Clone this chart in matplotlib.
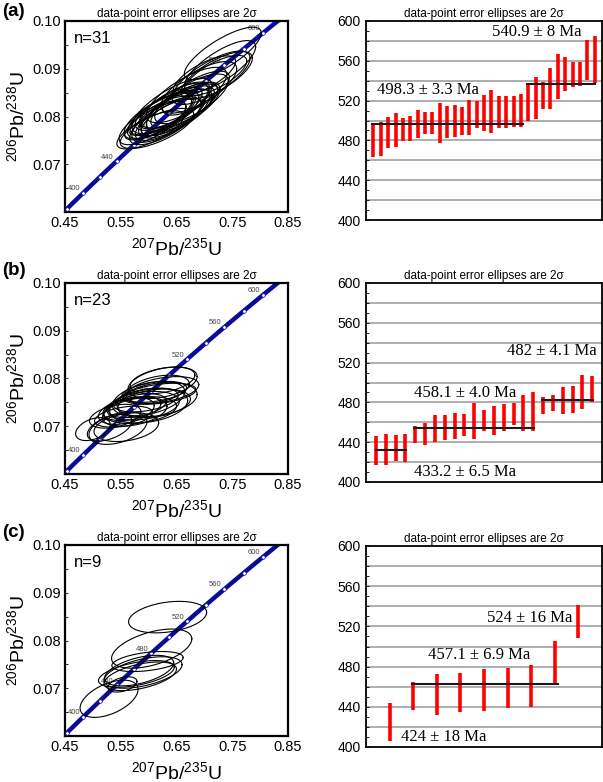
import numpy as np
import matplotlib
matplotlib.use("Agg")
import matplotlib.pyplot as plt
from matplotlib.ticker import MultipleLocator

plt.rcParams['font.family'] = ['Liberation Sans', 'DejaVu Sans']
plt.rcParams['mathtext.fontset'] = 'custom'
plt.rcParams['mathtext.rm'] = 'Liberation Sans'
plt.rcParams['mathtext.it'] = 'Liberation Sans:italic'
plt.rcParams['mathtext.bf'] = 'Liberation Sans:bold'

# decay constants (per Ma)
L238 = 1.55125e-4
L235 = 9.8485e-4

conc_tick_ages = [380, 400, 420, 440, 460, 480, 500, 520, 540, 560, 580, 600, 620]
conc_label_ages = [400, 440, 480, 520, 560, 600]

# ---- panel (a) ----
a_n = "n=31"
a_cx = [0.603, 0.615, 0.607, 0.630, 0.612, 0.636, 0.618, 0.644, 0.622, 0.640, 0.626,
        0.648, 0.624, 0.652, 0.636, 0.662, 0.642, 0.660, 0.645, 0.664, 0.648, 0.677,
        0.668, 0.685, 0.690, 0.712, 0.722, 0.700, 0.720, 0.728, 0.733]
a_cy = [0.0772, 0.0775, 0.0787, 0.0791, 0.0791, 0.0794, 0.0801, 0.0802, 0.0802, 0.0802,
        0.0804, 0.0806, 0.0805, 0.0812, 0.0816, 0.0820, 0.0822, 0.0821, 0.0822, 0.0822,
        0.0824, 0.0837, 0.0845, 0.0849, 0.0861, 0.0881, 0.0886, 0.0885, 0.0886, 0.0905, 0.0932]
a_sx = [0.060, 0.066, 0.060, 0.064, 0.055, 0.060, 0.062, 0.057, 0.055, 0.070, 0.064,
        0.066, 0.060, 0.066, 0.060, 0.066, 0.072, 0.064, 0.062, 0.060, 0.062, 0.066,
        0.072, 0.060, 0.068, 0.070, 0.064, 0.056, 0.056, 0.064, 0.069]
a_sy = [0.0040, 0.0042, 0.0046, 0.0050, 0.0040, 0.0044, 0.0048, 0.0042, 0.0040, 0.0056,
        0.0050, 0.0051, 0.0045, 0.0052, 0.0045, 0.0052, 0.0058, 0.0050, 0.0048, 0.0046,
        0.0048, 0.0052, 0.0058, 0.0046, 0.0054, 0.0056, 0.0050, 0.0042, 0.0042, 0.0054, 0.0055]
a_rho = [0.72, 0.70, 0.72, 0.72, 0.74, 0.72, 0.72, 0.74, 0.74, 0.74, 0.72, 0.72, 0.72,
         0.72, 0.72, 0.72, 0.74, 0.72, 0.72, 0.72, 0.72, 0.72, 0.74, 0.72, 0.72, 0.74,
         0.72, 0.72, 0.72, 0.76, 0.78]
a_low = [463.7, 464.3, 472.7, 473.7, 479.7, 479.7, 482.7, 486.4, 486.4, 477.1, 482.7,
         483.8, 485.4, 485.4, 492.1, 489.8, 487.1, 492.1, 492.8, 493.8, 493.8, 499.8,
         501.2, 511.6, 511.6, 521.3, 530.0, 534.0, 534.7, 540.7, 537.4]
a_high = [495.5, 498.2, 503.9, 507.2, 502.2, 504.9, 510.6, 508.2, 508.2, 517.9, 514.6,
          515.2, 513.2, 520.6, 519.6, 525.6, 530.7, 525.0, 525.0, 525.0, 526.3, 536.4,
          544.1, 539.0, 553.1, 566.5, 563.5, 558.5, 559.1, 580.9, 585.0]
a_mean_y = [496.0, 536.5]
a_mean_x = [(-0.2, 20.3), (20.8, 30.1)]
a_labels = ["498.3 ± 3.3 Ma", "540.9 ± 8 Ma"]
a_label_xy = [(0.45, 531), (16.1, 589)]

# ---- panel (b) ----
b_n = "n=23"
b_cx = [0.500, 0.545, 0.530, 0.560, 0.555, 0.540, 0.575, 0.560, 0.585, 0.570, 0.600,
        0.580, 0.590, 0.610, 0.595, 0.615, 0.600, 0.620, 0.610, 0.625, 0.615, 0.625, 0.625]
b_cy = [0.0694, 0.0696, 0.0697, 0.0698, 0.0720, 0.0721, 0.0730, 0.0732, 0.0734, 0.0737,
        0.0743, 0.0743, 0.0743, 0.0748, 0.0755, 0.0756, 0.0758, 0.0768, 0.0772, 0.0776,
        0.0777, 0.0791, 0.0796]
b_sx = [0.031, 0.052, 0.040, 0.058, 0.052, 0.046, 0.058, 0.050, 0.065, 0.052, 0.070,
        0.052, 0.065, 0.065, 0.058, 0.072, 0.065, 0.065, 0.058, 0.065, 0.058, 0.062, 0.058]
b_sy = [0.0024, 0.0034, 0.0028, 0.0030, 0.0022, 0.0025, 0.0030, 0.0028, 0.0028, 0.0025,
        0.0036, 0.0025, 0.0030, 0.0030, 0.0025, 0.0036, 0.0036, 0.0022, 0.0022, 0.0028,
        0.0030, 0.0033, 0.0028]
b_rho = [0.4, 0.4, 0.5, 0.3, 0.4, 0.4, 0.4, 0.4, 0.3, 0.4, 0.3, 0.4, 0.3, 0.3, 0.4, 0.3,
         0.4, 0.4, 0.4, 0.4, 0.4, 0.4, 0.4]
b_low = [417.4, 416.7, 420.8, 420.1, 439.2, 437.5, 439.8, 441.9, 443.5, 446.6, 443.5,
         450.9, 447.5, 450.9, 457.6, 451.6, 451.6, 468.4, 471.1, 468.7, 469.4, 473.7, 480.5]
b_high = [445.9, 448.6, 446.9, 447.9, 456.0, 459.3, 467.7, 467.7, 469.4, 468.7, 479.4,
          472.7, 476.0, 478.0, 479.4, 487.8, 490.1, 485.4, 487.8, 495.1, 496.2, 507.9, 506.8]
b_mean_y = [432.5, 454.3, 482.8]
b_mean_x = [(0.0, 3.05), (3.9, 16.1), (16.9, 22.1)]
b_labels = ["433.2 ± 6.5 Ma", "458.1 ± 4.0 Ma", "482 ± 4.1 Ma"]
b_label_xy = [(3.9, 410.5), (3.9, 489.5), (13.3, 532)]

# ---- panel (c) ----
c_n = "n=9"
c_cx = [0.529, 0.553, 0.585, 0.578, 0.590, 0.598, 0.583, 0.6055, 0.634]
c_cy = [0.0678, 0.0708, 0.0725, 0.0730, 0.0733, 0.0756, 0.0737, 0.0783, 0.0849]
c_sx = [0.052, 0.026, 0.065, 0.068, 0.070, 0.064, 0.062, 0.072, 0.070]
c_sy = [0.0039, 0.0016, 0.0030, 0.0028, 0.0033, 0.0021, 0.0032, 0.0041, 0.0033]
c_rho = [0.5, 0.4, 0.5, 0.5, 0.5, 0.4, 0.5, 0.5, 0.3]
c_low = [406.1, 437.2, 432.3, 434.9, 435.9, 438.9, 439.9, 463.1, 508.0]
c_high = [443.9, 464.8, 473.1, 474.1, 477.5, 478.8, 481.4, 505.6, 541.2]
c_mean_y = [462.2]
c_mean_x = [(0.97, 7.15)]
c_labels = ["424 ± 18 Ma", "457.1 ± 6.9 Ma", "524 ± 16 Ma"]
c_label_xy = [(0.49, 410), (1.62, 491.5), (4.12, 528)]

TITLE = "data-point error ellipses are 2σ"
W, H = 603, 782


def concordia_panel(ax, cx, cy, sx, sy, rho, ntext):
    t = np.linspace(300, 700, 400)
    ax.plot(np.exp(L235 * t) - 1, np.exp(L238 * t) - 1, color='#0a0a9a', lw=3.2,
            solid_capstyle='butt', zorder=2)
    ta = np.array(conc_tick_ages, dtype=float)
    ax.plot(np.exp(L235 * ta) - 1, np.exp(L238 * ta) - 1, 'o', ms=2.6, mfc='white',
            mec='#0a0a9a', mew=0.5, zorder=3)
    for age in conc_label_ages:
        ax.annotate(str(age), (np.exp(L235 * age) - 1, np.exp(L238 * age) - 1),
                    xytext=(-2, 0.5), textcoords='offset points', ha='right', va='bottom',
                    fontsize=5.5, color='#444444', zorder=3)
    th = np.linspace(0, 2 * np.pi, 140)
    for x0, y0, ex, ey, r in zip(cx, cy, sx, sy, rho):
        xs = x0 + ex * np.cos(th)
        ys = y0 + ey * (r * np.cos(th) + np.sqrt(1 - r * r) * np.sin(th))
        ax.plot(xs, ys, color='black', lw=0.8, zorder=4)
    ax.set_xlim(0.45, 0.85)
    ax.set_ylim(0.06, 0.10)
    ax.set_xticks([0.45, 0.55, 0.65, 0.75, 0.85])
    ax.set_xticklabels(['0.45', '0.55', '0.65', '0.75', '0.85'])
    ax.set_yticks([0.07, 0.08, 0.09, 0.10])
    ax.set_yticklabels(['0.07', '0.08', '0.09', '0.10'])
    ax.yaxis.set_minor_locator(MultipleLocator(0.005))
    ax.tick_params(which='both', direction='in', length=2, width=0.6, labelsize=10.5, pad=3)
    ax.tick_params(axis='x', which='both', length=0)
    for s in ax.spines.values():
        s.set_linewidth(1.6)
    ax.set_xlabel(r'$^{207}$Pb/$^{235}$U', fontsize=14, labelpad=5)
    ax.set_ylabel(r'$^{206}$Pb/$^{238}$U', fontsize=14, labelpad=3)
    ax.text(0.04, 0.91, ntext, transform=ax.transAxes, fontsize=12, va='center')
    ax.set_title(TITLE, fontsize=8.5, pad=3)


def age_panel(ax, low, high, mean_y, mean_x, labels, label_xy):
    n = len(low)
    idx = np.arange(n)
    for g in range(420, 600, 20):
        ax.axhline(g, color='#a0a0a0', lw=1.2, zorder=1)
    ax.vlines(idx, low, high, color='#ff0000', lw=2.6, zorder=2)
    for yv, (x0, x1) in zip(mean_y, mean_x):
        ax.plot([x0, x1], [yv, yv], color='#1a1a1a', lw=1.5, zorder=3)
    for txt, (tx, ty) in zip(labels, label_xy):
        ax.text(tx, ty, txt, fontsize=12, family=['Liberation Serif', 'DejaVu Serif'],
                ha='left', va='center', zorder=4)
    ax.set_xlim(-1, n)
    ax.set_ylim(400, 600)
    ax.set_xticks([])
    ax.set_yticks(range(400, 601, 40))
    ax.yaxis.set_minor_locator(MultipleLocator(10))
    ax.tick_params(axis='y', which='both', direction='in', length=2, width=0.6,
                   labelsize=10, pad=4)
    for s in ax.spines.values():
        s.set_linewidth(1.3)
    ax.set_title(TITLE, fontsize=8.5, pad=3)


fig = plt.figure(figsize=(W / 100, H / 100), dpi=100)

# left (concordia) axes: x 65-288 px, right (age) axes: x 366-602 px
rows = [
    ((21, 212), (21, 220), "(a)", 3,
     (a_cx, a_cy, a_sx, a_sy, a_rho, a_n), (a_low, a_high, a_mean_y, a_mean_x, a_labels, a_label_xy)),
    ((283, 474), (283, 482), "(b)", 262,
     (b_cx, b_cy, b_sx, b_sy, b_rho, b_n), (b_low, b_high, b_mean_y, b_mean_x, b_labels, b_label_xy)),
    ((545, 736), (546, 747), "(c)", 524,
     (c_cx, c_cy, c_sx, c_sy, c_rho, c_n), (c_low, c_high, c_mean_y, c_mean_x, c_labels, c_label_xy)),
]

for (lt, lb), (rt, rb), letter, ly, conc, ages in rows:
    axl = fig.add_axes([65 / W, 1 - lb / H, 223 / W, (lb - lt) / H])
    concordia_panel(axl, *conc)
    axr = fig.add_axes([366 / W, 1 - rb / H, 236 / W, (rb - rt) / H])
    age_panel(axr, *ages)
    fig.text(2 / W, 1 - ly / H, letter, fontsize=13.5, fontweight='bold', va='top', ha='left')

fig.savefig("out.png", dpi=100)
